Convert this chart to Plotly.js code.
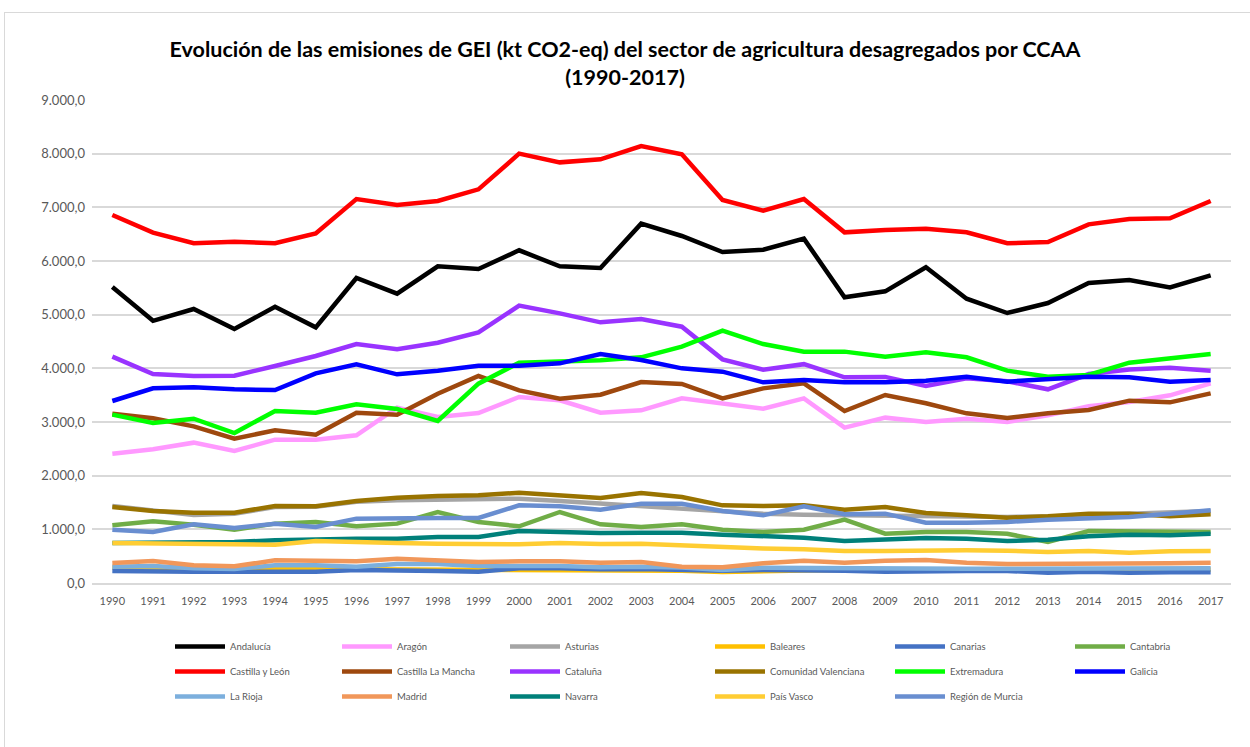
<!DOCTYPE html>
<html>
<head>
<meta charset="utf-8">
<script src="https://cdn.plot.ly/plotly-3.0.1.min.js"></script>
<style>
  html, body { margin: 0; padding: 0; background: #fff; overflow: hidden; }
  #frame { position: absolute; left: 4px; top: 12px; width: 1270px; height: 760px; border: 1px solid #D9D9D9; }
  #chart { position: absolute; left: 0; top: 0; width: 1250px; height: 747px; }
</style>
</head>
<body>
<div id="frame"></div>
<div id="chart"></div>
<script>
const years = [1990,1991,1992,1993,1994,1995,1996,1997,1998,1999,2000,2001,2002,2003,2004,2005,2006,2007,2008,2009,2010,2011,2012,2013,2014,2015,2016,2017];

const andalucia   = [5516,4885,5106,4733,5149,4764,5683,5391,5900,5851,6199,5900,5870,6696,6466,6168,6211,6416,5323,5435,5882,5298,5031,5217,5590,5646,5509,5733];
const aragon      = [2410,2491,2615,2460,2671,2671,2752,3267,3093,3168,3466,3404,3174,3217,3441,3335,3248,3441,2894,3081,3000,3062,3000,3124,3292,3373,3497,3720];
const asturias    = [1435,1350,1267,1292,1416,1420,1515,1540,1553,1559,1571,1528,1478,1440,1390,1320,1290,1270,1260,1260,1230,1220,1230,1240,1260,1290,1310,1340];
const baleares    = [290,280,270,265,260,255,255,250,250,250,250,240,235,240,230,205,225,235,240,240,240,240,240,240,240,240,245,250];
const canarias    = [224,211,211,211,211,211,242,224,224,211,273,273,255,260,242,230,242,242,230,211,224,224,224,192,211,192,198,198];
const cantabria   = [1075,1149,1087,994,1106,1137,1056,1106,1323,1137,1056,1323,1093,1043,1093,994,950,994,1180,919,950,950,919,764,969,969,950,950];
const castillaLeon = [6857,6528,6330,6360,6330,6515,7155,7043,7118,7335,8000,7838,7894,8143,7990,7137,6938,7155,6534,6578,6600,6534,6330,6354,6683,6783,6795,7118];
const castillaMancha = [3155,3070,2919,2689,2845,2764,3174,3137,3528,3857,3590,3435,3509,3745,3708,3441,3627,3720,3205,3503,3348,3161,3075,3161,3224,3398,3366,3534];
const cataluna    = [4217,3894,3857,3863,4043,4230,4453,4354,4478,4671,5168,5025,4857,4919,4776,4168,3975,4078,3832,3840,3671,3814,3760,3609,3894,3980,4010,3955];
const valenciana  = [1416,1342,1310,1311,1435,1429,1528,1590,1621,1634,1683,1634,1584,1677,1602,1447,1435,1447,1366,1416,1304,1261,1217,1242,1292,1292,1242,1280];
const extremadura = [3137,2981,3062,2795,3205,3174,3329,3242,3019,3714,4106,4118,4149,4205,4404,4702,4453,4311,4311,4217,4298,4205,3957,3845,3876,4106,4186,4267];
const galicia     = [3391,3627,3646,3609,3596,3907,4075,3888,3957,4050,4050,4093,4267,4155,4000,3938,3739,3783,3739,3739,3770,3845,3752,3795,3845,3832,3752,3783];
const laRioja     = [304,317,273,261,329,329,304,354,354,317,317,317,292,304,290,242,286,280,270,260,261,265,265,265,270,270,273,273];
const madrid      = [373,410,329,311,422,404,404,453,422,391,404,404,379,391,304,292,366,416,379,416,429,379,354,354,366,366,366,379];
const navarra     = [745,745,751,764,795,814,826,826,857,857,969,950,932,938,938,901,876,845,783,807,838,826,783,807,870,901,888,919];
const paisVasco   = [745,733,733,714,714,783,758,745,733,733,720,745,727,733,702,658,645,627,596,596,609,609,600,578,596,565,590,596];
const murcia      = [994,950,1093,1025,1106,1043,1199,1211,1211,1211,1447,1429,1366,1478,1478,1342,1261,1429,1280,1292,1124,1124,1137,1180,1199,1230,1292,1354];

const seriesNames = ["Andalucía","Aragón","Asturias","Baleares","Canarias","Cantabria",
  "Castilla y León","Castilla La Mancha","Cataluña","Comunidad Valenciana","Extremadura","Galicia",
  "La Rioja","Madrid","Navarra","País Vasco","Región de Murcia"];
const seriesValues = [andalucia, aragon, asturias, baleares, canarias, cantabria,
  castillaLeon, castillaMancha, cataluna, valenciana, extremadura, galicia,
  laRioja, madrid, navarra, paisVasco, murcia];
const seriesColors = ["#000000","#FF99FF","#A5A5A5","#FFC000","#4472C4","#70AD47",
  "#FF0000","#9E480E","#9933FF","#997300","#00FF00","#0000FF",
  "#7CAFDD","#F1975A","#00807A","#FFCD33","#698ED0"];

const W = 1250, H = 747;
const L = 92, R = 19, T = 100, B = 164;
const pw = W - L - R, ph = H - T - B;
const legendCols = [175, 342, 510, 715, 895, 1075];
const legendTop = 632;

const traces = seriesNames.map((name, i) => {
  const col = i % 6;
  return {
    type: "scatter", mode: "lines", name: name,
    x: years, y: seriesValues[i],
    line: { color: seriesColors[i], width: 4.5 },
    legend: col === 0 ? "legend" : "legend" + (col + 1),
    legendgroup: name,
    hoverinfo: "x+y+name"
  };
});

function legendObj(col) {
  return {
    x: (legendCols[col] - 5 - L) / pw,
    y: (H - B - legendTop) / ph,
    xanchor: "left", yanchor: "top",
    orientation: "v",
    tracegroupgap: 6,
    font: { family: "Lato, sans-serif", size: 9.5, color: "#595959" },
    bgcolor: "rgba(0,0,0,0)",
    itemwidth: 50
  };
}

const layout = {
  width: W, height: H,
  margin: { l: L, r: R, t: T, b: B },
  paper_bgcolor: "rgba(0,0,0,0)",
  plot_bgcolor: "rgba(0,0,0,0)",
  separators: ",.",
  font: { family: "Lato, sans-serif", color: "#595959" },
  title: {
    text: "<b>Evolución de las emisiones de GEI (kt CO2-eq) del sector de agricultura desagregados por CCAA<br>(1990-2017)</b>",
    font: { family: "Lato, sans-serif", size: 21.5, color: "#000000" },
    x: 0.5, xanchor: "center", xref: "container",
    y: 1 - 57 / H, yanchor: "top", yref: "container"
  },
  xaxis: {
    type: "linear",
    range: [1989.5, 2017.5],
    tickmode: "array", tickvals: years, ticktext: years.map(String),
    showgrid: false, zeroline: false, showline: true,
    linecolor: "#D9D9D9", linewidth: 1.5,
    ticks: "", ticklabelstandoff: 7,
    tickfont: { size: 11, color: "#595959" },
    fixedrange: true
  },
  yaxis: {
    range: [0, 9000], dtick: 1000, tick0: 0,
    tickformat: ",.1f",
    showgrid: true, gridcolor: "#D9D9D9", gridwidth: 1.5,
    zeroline: false, showline: false,
    ticks: "", ticklabelstandoff: 6,
    tickfont: { size: 13, color: "#595959" },
    fixedrange: true
  },
  showlegend: true,
  legend: legendObj(0),
  legend2: legendObj(1),
  legend3: legendObj(2),
  legend4: legendObj(3),
  legend5: legendObj(4),
  legend6: legendObj(5)
};

Plotly.newPlot("chart", traces, layout, { displayModeBar: false });
</script>
</body>
</html>
